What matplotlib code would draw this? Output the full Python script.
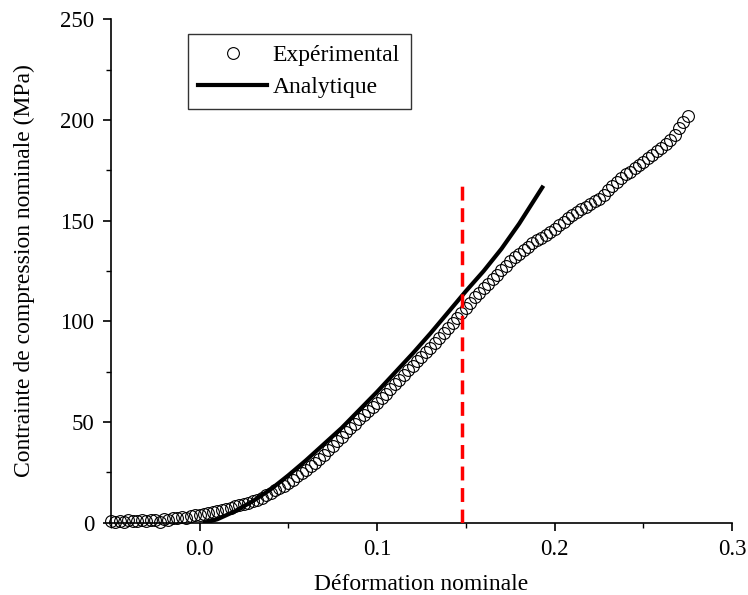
import matplotlib
matplotlib.use('Agg')
import matplotlib.pyplot as plt
from matplotlib.ticker import MultipleLocator, FormatStrFormatter

strain_exp = [-0.0500, -0.0475, -0.0450, -0.0425, -0.0400, -0.0375, -0.0350, -0.0325, -0.0300, -0.0275,
              -0.0250, -0.0225, -0.0200, -0.0175, -0.0150, -0.0125, -0.0100, -0.0075, -0.0050, -0.0025,
              0.0000, 0.0025, 0.0050, 0.0075, 0.0100, 0.0125, 0.0150, 0.0175, 0.0200, 0.0225,
              0.0250, 0.0275, 0.0300, 0.0325, 0.0350, 0.0375, 0.0400, 0.0425, 0.0450, 0.0475,
              0.0500, 0.0525, 0.0550, 0.0575, 0.0600, 0.0625, 0.0650, 0.0675, 0.0700, 0.0725,
              0.0750, 0.0775, 0.0800, 0.0825, 0.0850, 0.0875, 0.0900, 0.0925, 0.0950, 0.0975,
              0.1000, 0.1025, 0.1050, 0.1075, 0.1100, 0.1125, 0.1150, 0.1175, 0.1200, 0.1225,
              0.1250, 0.1275, 0.1300, 0.1325, 0.1350, 0.1375, 0.1400, 0.1425, 0.1450, 0.1475,
              0.1500, 0.1525, 0.1550, 0.1575, 0.1600, 0.1625, 0.1650, 0.1675, 0.1700, 0.1725,
              0.1750, 0.1775, 0.1800, 0.1825, 0.1850, 0.1875, 0.1900, 0.1925, 0.1950, 0.1975,
              0.2000, 0.2025, 0.2050, 0.2075, 0.2100, 0.2125, 0.2150, 0.2175, 0.2200, 0.2225,
              0.2250, 0.2275, 0.2300, 0.2325, 0.2350, 0.2375, 0.2400, 0.2425, 0.2450, 0.2475,
              0.2500, 0.2525, 0.2550, 0.2575, 0.2600, 0.2625, 0.2650, 0.2675, 0.2700, 0.2725,
              0.2750]
stress_exp = [0.6, 0.4, 0.9, 0.3, 1.3, 0.7, 0.8, 1.1, 0.6, 1.4,
              1.5, 0.5, 1.6, 1.3, 2.1, 2.2, 2.6, 2.4, 3.3, 3.6,
              4.0, 4.4, 4.9, 5.3, 5.7, 6.2, 6.8, 7.4, 8.1, 8.8,
              9.4, 10.0, 10.7, 11.5, 12.5, 13.6, 14.8, 16.0, 17.2, 18.4,
              19.7, 21.3, 23.0, 24.7, 26.4, 28.0, 29.7, 31.6, 33.7, 35.9,
              38.2, 40.4, 42.7, 45.0, 47.1, 49.2, 51.3, 53.4, 55.3, 57.4,
              59.4, 61.7, 64.0, 66.4, 68.7, 71.0, 73.3, 75.6, 77.9, 80.2,
              82.4, 84.6, 86.9, 89.3, 91.6, 94.1, 96.6, 99.0, 101.5, 104.0,
              106.5, 109.2, 111.9, 114.3, 116.6, 118.7, 121.0, 123.2, 125.5, 127.7,
              130.0, 131.8, 133.5, 135.2, 137.0, 138.7, 140.2, 141.6, 143.1, 144.5,
              146.0, 147.8, 149.5, 151.2, 153.0, 154.3, 155.6, 157.0, 158.4, 159.7,
              161.0, 163.0, 165.0, 167.0, 169.0, 171.0, 173.0, 174.4, 176.0, 177.6,
              179.2, 181.0, 182.8, 184.6, 186.3, 187.9, 190.0, 192.6, 196.0, 199.0,
              202.0]

# analytical model curve
strain_ana = [0.003, 0.010, 0.020, 0.030, 0.040, 0.050, 0.060, 0.070, 0.080, 0.090,
              0.100, 0.110, 0.120, 0.130, 0.140, 0.150, 0.160, 0.170, 0.180, 0.193]
stress_ana = [0.0, 1.7, 5.7, 10.7, 16.5, 23.5, 31.0, 39.0, 47.0, 56.0,
              65.0, 74.5, 84.0, 94.0, 104.5, 115.0, 125.0, 136.0, 148.5, 166.5]

# validity limit (red dashed marker)
limit_strain = 0.148
limit_top = 169

plt.rcParams['font.family'] = ['Liberation Serif', 'DejaVu Serif']
plt.rcParams['font.size'] = 16.5

fig = plt.figure(figsize=(7.48, 5.95), dpi=100)
ax = fig.add_axes([0.148, 0.1215, 0.831, 0.846])

ax.plot(strain_exp, stress_exp, linestyle='', marker='o', markersize=8.5,
        markerfacecolor='none', markeredgecolor='black', markeredgewidth=0.8,
        clip_on=False, label='Expérimental', zorder=3)
ax.plot(strain_ana, stress_ana, color='black', linewidth=3, label='Analytique', zorder=4)
ax.vlines(limit_strain, 0, limit_top, colors='#ff0000', linewidth=2.5,
          linestyles=(0, (4.0, 2.2)), zorder=5)

ax.set_xlim(-0.05, 0.3)
ax.set_ylim(0, 250)
ax.xaxis.set_major_locator(MultipleLocator(0.1))
ax.xaxis.set_minor_locator(MultipleLocator(0.05))
ax.yaxis.set_major_locator(MultipleLocator(50))
ax.yaxis.set_minor_locator(MultipleLocator(25))
ax.xaxis.set_major_formatter(FormatStrFormatter('%.1f'))

for side in ['top', 'right']:
    ax.spines[side].set_visible(False)
for side in ['left', 'bottom']:
    ax.spines[side].set_linewidth(1.2)
ax.tick_params(which='major', direction='out', length=6, width=1.2, labelsize=16.5, pad=6)
ax.tick_params(which='minor', direction='out', length=3.5, width=1.0)

ax.set_xlabel('Déformation nominale', fontsize=17, labelpad=10)
ax.set_ylabel('Contrainte de compression nominale (MPa)', fontsize=17, labelpad=18)

leg = ax.legend(loc='upper left', bbox_to_anchor=(0.124, 0.971), frameon=True,
                fancybox=False, edgecolor='black', fontsize=17, handlelength=2.9,
                handletextpad=0.25, borderpad=0.45, labelspacing=0.45, borderaxespad=0)
leg.get_frame().set_linewidth(1.0)

fig.savefig('out.png', dpi=100)
